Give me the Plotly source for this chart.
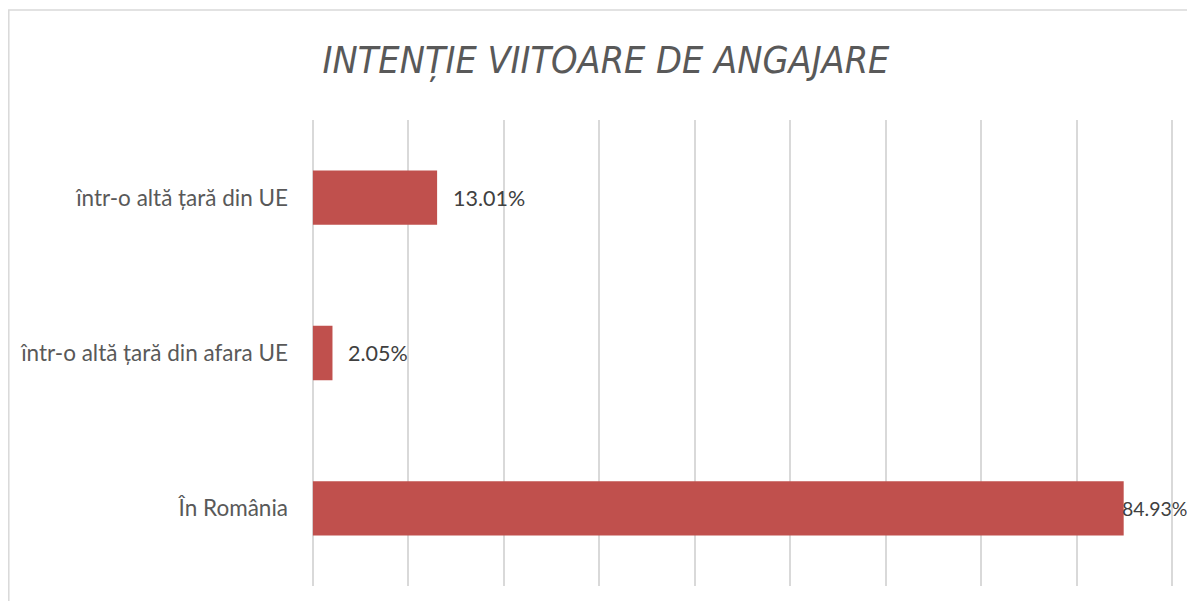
import plotly.graph_objects as go

categories = ["În România", "într-o altă țară din afara UE", "într-o altă țară din UE"]
values = [0.8493, 0.0205, 0.1301]
label_texts = ["84.93%", "2.05%", "13.01%"]
label_shifts = [-4, 14, 14]
label_sizes = [19.5, 21.5, 21.5]
title_text = "INTENȚIE VIITOARE DE ANGAJARE"

# page has an 8px body margin, so the figure is sized/placed to compensate
OFF = 8
W, H = 1195 - 2 * OFF, 609 - 2 * OFF
XMIN, XMAX = -0.002, 0.902          # slightly padded so edge gridlines at 0 and 90% are drawn
PX_PER_UNIT = 955.0
L = round(313 - OFF + XMIN * PX_PER_UNIT)
plot_w = round((XMAX - XMIN) * PX_PER_UNIT)
R = W - L - plot_w
T, B = 120 - OFF, H - (586 - OFF)
pw, ph = W - L - R, H - T - B

fig = go.Figure()
fig.add_trace(go.Bar(
    y=categories, x=values, orientation="h",
    marker=dict(color="#C0504D", line=dict(width=0)),
    hoverinfo="skip",
))

for c, v, t, s, fs in zip(categories, values, label_texts, label_shifts, label_sizes):
    fig.add_annotation(x=v, y=c, xref="x", yref="y", text=t, showarrow=False,
                       xanchor="left", yanchor="middle", xshift=s,
                       font=dict(family="Lato", size=fs, color="#404040"))

# outer chart border (left/top visible)
fig.add_shape(type="rect", xref="paper", yref="paper",
              x0=(0.8 - L) / pw, x1=(W + 20 - L) / pw,
              y0=(-20 - B) / ph, y1=(H - B - 2) / ph,
              line=dict(color="#D9D9D9", width=1.5), fillcolor="rgba(0,0,0,0)", layer="below")

fig.update_layout(
    width=W, height=H,
    margin=dict(l=L, r=R, t=T, b=B),
    paper_bgcolor="white", plot_bgcolor="white",
    bargap=0.65,
    showlegend=False,
    title=dict(text=title_text, x=(606 - OFF) / W, xanchor="center", xref="container",
               y=1 - (60 - OFF) / H, yanchor="middle", yref="container",
               font=dict(family="DejaVu Sans Condensed, Liberation Sans Narrow, DejaVu Sans",
                         size=37.5, color="#595959", style="italic")),
    xaxis=dict(range=[XMIN, XMAX], dtick=0.1, tick0=0, showticklabels=False,
               showgrid=True, gridcolor="#D9D9D9", gridwidth=1.5,
               zeroline=False, showline=False, fixedrange=True),
    yaxis=dict(showgrid=False, zeroline=False, showline=False, ticks="",
               ticklabelstandoff=22,
               tickfont=dict(family="Lato", size=22.5, color="#595959")),
)

fig.write_html("out.html")
